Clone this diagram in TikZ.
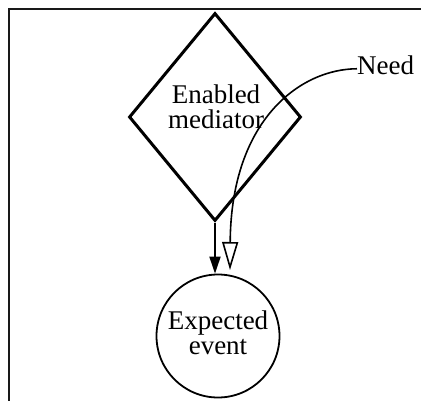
\documentclass[tikz,border=0pt]{standalone}
\usepackage{fontspec}
\setmainfont{Liberation Serif}
\usetikzlibrary{shapes.geometric,arrows.meta}
\begin{document}
\begin{tikzpicture}[x=1pt,y=-1pt,
  lbl/.style={font=\fontsize{27}{24.5}\selectfont, align=center, inner sep=0pt},
  gate/.style={diamond, draw, line width=3pt, minimum width=172pt, minimum height=208pt, inner sep=0pt},
  state/.style={circle, draw, line width=1.8pt, minimum size=123pt, inner sep=0pt},
  flow/.style={line width=1.8pt, -{Triangle[length=17pt,width=11pt]}},
  needarrow/.style={line width=1.6pt, -{Triangle[open,length=28pt,width=16pt]}}]
\useasboundingbox (0,0) rectangle (421,400);
% outer frame (only top and left edges fall inside the page)
\draw[line width=2.5pt, black!90] (9,402) -- (9,9) -- (423,9);
% nodes
\node[gate] (med) at (215,117) {};
\node[lbl] (medtext) at (216,107) {Enabled\\mediator};
\node[state] (ev) at (218,336) {};
\node[lbl] (evtext) at (218,333) {Expected\\event};
\node[lbl, anchor=base west] (needlbl) at (357,74) {Need};
\coordinate (needtip) at (230,270);
% connectors
\draw[flow] (med.south) -- (ev.north -| med.south);
\draw[needarrow] ([yshift=-4pt]needlbl.west) .. controls (301,69) and (231,119) .. (needtip);
\end{tikzpicture}
\end{document}
